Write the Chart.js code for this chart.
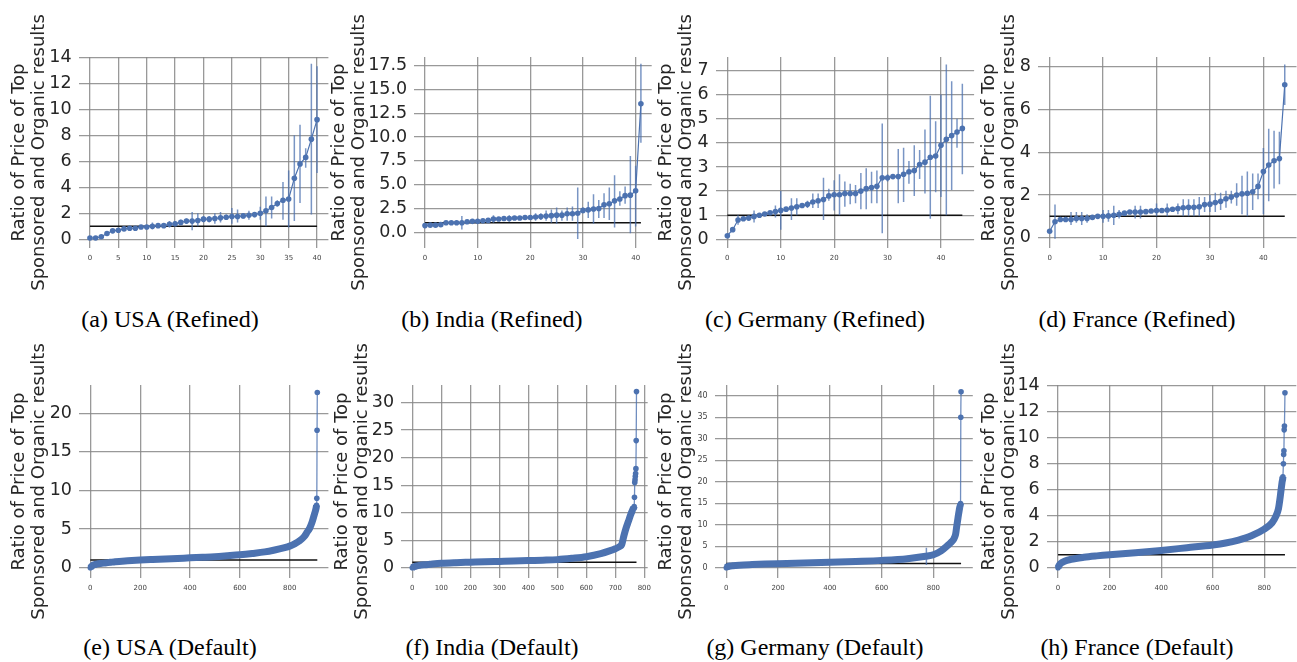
<!DOCTYPE html>
<html>
<head>
<meta charset="utf-8">
<script src="https://cdn.jsdelivr.net/npm/chart.js@4.4.1/dist/chart.umd.min.js"></script>
<style>
  body { margin: 0; background: #fff; width: 1297px; height: 662px; position: relative; overflow: hidden; }
  canvas { position: absolute; }
  .cap { position: absolute; width: 400px; text-align: center; font-family: "Liberation Serif", "Times New Roman", serif; font-size: 24px; line-height: 24px; color: #000; white-space: nowrap; }
</style>
</head>
<body>
<script>
// ---- data: refined runs (one value per product, sorted) ----
const aY = [0.1,0.1,0.2,0.45,0.65,0.7,0.8,0.85,0.85,0.95, 0.95,1.0,1.05,1.05,1.15,1.2,1.3,1.4,1.4,1.45,
            1.55,1.55,1.6,1.65,1.7,1.75,1.75,1.8,1.85,1.9, 2.0,2.2,2.45,2.75,3.0,3.1,4.7,5.8,6.3,7.7, 9.2];
const aErrIdx = [11,14,15,16,17,18,19,20,21,22,23,24,25,26,27,28,29,30,31,32,33,34,35,36,37,38,39,40];
const aErrLo  = [0.75,0.9,1.0,1.1,1.2,0.7,1.0,1.3,1.3,1.2,1.3,1.5,1.2,1.3,1.6,1.5,1.7,1.5,1.0,1.6,2.5,1.5,0.9,1.4,2.8,5.5,1.9,5.1];
const aErrHi  = [1.3,1.4,1.4,1.5,1.6,2.1,2.0,1.8,1.8,2.0,2.1,1.9,2.4,2.3,2.0,2.2,2.1,2.5,3.3,3.3,3.0,4.4,5.3,8.0,8.8,7.0,13.5,13.3];

const bY = [0.7,0.75,0.75,0.8,1.0,1.0,1.0,1.0,1.1,1.15, 1.15,1.2,1.25,1.4,1.4,1.45,1.45,1.5,1.5,1.55,
            1.55,1.6,1.65,1.7,1.75,1.8,1.8,1.95,1.95,2.0, 2.3,2.35,2.45,2.5,2.9,3.0,3.3,3.5,3.85,3.9, 4.35,13.5];
const bErrIdx = [7,13,16,21,22,23,24,25,26,27,28,29,30,31,32,33,34,35,36,37,38,39,40,41];
const bErrLo  = [0.3,1.0,1.1,1.2,1.3,1.2,1.0,0.9,1.2,1.2,1.2,-0.7,2.0,1.5,0.9,1.5,1.5,1.3,0.5,2.8,3.0,-0.1,0.6,9.4];
const bErrHi  = [1.7,1.8,1.8,2.0,2.0,2.3,2.4,2.6,2.3,2.6,2.7,4.7,2.6,3.2,4.0,3.4,4.1,4.7,6.0,4.3,4.8,8.0,7.0,17.7];

const cY = [0.15,0.4,0.8,0.85,0.88,0.95,1.0,1.05,1.1,1.15, 1.2,1.25,1.3,1.35,1.4,1.45,1.55,1.6,1.65,1.8,
            1.85,1.85,1.9,1.9,1.9,2.0,2.1,2.15,2.2,2.55, 2.55,2.6,2.6,2.7,2.8,2.85,3.1,3.2,3.4,3.45,
            3.9,4.15,4.3,4.45,4.6];
const cErrIdx = [2,5,9,10,12,13,15,16,17,18,19,20,21,22,23,24,25,26,27,28,29,30,31,32,33,34,35,36,37,38,39,40,41,42,43,44];
const cErrLo  = [0.6,0.7,0.9,0.4,0.8,1.0,1.3,1.3,1.3,0.8,1.6,1.2,1.0,1.35,1.45,1.5,1.25,1.25,1.5,1.5,
                 0.25,2.4,2.5,1.5,1.55,2.3,1.8,2.5,1.9,0.85,1.95,1.75,1.0,2.05,3.8,2.7];
const cErrHi  = [1.0,1.2,1.4,2.0,1.7,1.7,1.6,1.9,1.9,2.55,2.1,2.45,2.7,2.4,2.3,2.25,2.75,2.95,2.8,2.85,
                 4.8,2.7,2.7,3.75,3.8,3.25,3.9,3.7,4.55,5.95,4.9,6.0,7.25,6.55,5.0,6.45];

const dY = [0.3,0.75,0.85,0.85,0.85,0.9,0.9,0.9,0.95,1.0, 1.0,1.02,1.05,1.1,1.15,1.2,1.2,1.2,1.22,1.25,
            1.27,1.27,1.3,1.33,1.37,1.4,1.42,1.42,1.45,1.55, 1.57,1.65,1.7,1.82,1.9,2.0,2.05,2.08,2.15,2.4,
            3.1,3.4,3.6,3.7,7.15];
const dErrIdx = [1,4,5,6,7,10,11,12,13,16,17,20,22,24,25,26,27,28,29,30,31,32,33,34,35,36,37,38,39,40,41,42,43,44];
const dErrLo  = [-0.05,0.6,0.7,0.6,0.7,0.7,0.75,0.6,0.9,0.9,0.9,1.0,1.0,1.1,1.0,1.0,1.0,1.0,1.2,1.2,
                 1.2,1.3,1.4,1.6,1.5,1.1,1.0,1.3,1.8,1.1,1.7,2.3,2.5,6.2];
const dErrHi  = [1.55,1.2,1.2,1.2,1.1,1.3,1.3,1.5,1.3,1.5,1.5,1.6,1.6,1.6,1.8,1.8,1.8,1.9,1.9,2.0,
                 2.1,2.1,2.2,2.2,2.55,2.9,3.1,3.0,3.0,4.2,5.1,5.0,4.95,8.1];

// ---- data: default runs (~900 products, read at sample positions) ----
const eX = [0,3,8,15,25,40,60,80,100,150, 200,250,300,350,400,450,500,550,600,650,
            700,740,780,800,820,840,860,870,880,890, 900,906,908,909,910,911];
const eY = [0,0.12,0.28,0.38,0.46,0.54,0.62,0.7,0.78,0.9, 1.0,1.07,1.13,1.2,1.28,1.35,1.43,1.55,1.68,1.85,
            2.05,2.3,2.6,2.8,3.1,3.5,4.1,4.6,5.1,5.9, 7.0,7.7,8.1,9.0,17.8,22.7];

const fX = [0,3,8,15,25,40,60,100,150,200, 250,300,350,400,450,500,550,600,650,680,
            700,715,722,730,737,745,752,758,762,765, 766,767,768,769,770,771,772,773];
const fY = [0,0.1,0.22,0.32,0.42,0.52,0.62,0.8,0.92,1.0, 1.08,1.15,1.22,1.3,1.37,1.47,1.7,2.0,2.55,3.05,
            3.45,3.85,4.2,5.9,7.2,8.4,9.5,10.3,10.8,11.1, 12.8,15.5,16.0,16.6,17.1,18.0,23.1,32.0];

const gX = [0,3,8,15,25,50,100,150,200,300, 400,500,600,700,770,800,830,850,870,880,
            886,890,895,900,904,905,906,907];
const gY = [0,0.15,0.3,0.4,0.47,0.58,0.72,0.84,0.94,1.1, 1.26,1.46,1.7,2.1,2.65,3.0,3.9,4.9,6.0,6.8,
            7.8,9.5,11.5,13.4,14.5,14.9,35.0,40.9];
const gErrIdx = [773];
const gErrLo  = [0.6];
const gErrHi  = [4.65];

const hX = [0,3,10,25,50,100,150,200,300,400, 500,600,650,700,750,800,830,845,855,860,
            865,869,872,874,875,876,877,878,880];
const hY = [0,0.15,0.33,0.5,0.64,0.8,0.91,1.0,1.15,1.33, 1.54,1.75,1.9,2.13,2.46,2.97,3.46,3.97,4.56,5.2,
            6.0,6.6,7.0,8.0,8.7,9.0,10.6,10.9,13.45];

const yTitle = ['Ratio of Price of Top', 'Sponsored and Organic results'];
const captions = ['(a) USA (Refined)', '(b) India (Refined)', '(c) Germany (Refined)', '(d) France (Refined)',
                  '(e) USA (Default)', '(f) India (Default)', '(g) Germany (Default)', '(h) France (Default)'];

const idx = arr => arr.map((_, i) => i);

// ---- layout ----
const rows = [{top: 2, padTop: 55, axH: 191, padBottom: 26, capTop: 307},
              {top: 340, padTop: 45, axH: 193, padBottom: 22, capTop: 635}];
const panels = [
  {xs: idx(aY), ys: aY, err: [aErrIdx, aErrLo, aErrHi], row: 0, left: 10,  axL: 78.6,   axR: 328.4,  x: [-2, 42, 5],        y: [-0.67, 14.02, 2], cap: 170},
  {xs: idx(bY), ys: bY, err: [bErrIdx, bErrLo, bErrHi], row: 0, left: 330, axL: 414.2,  axR: 651.7,  x: [-2.05, 43.05, 10], y: [-1.65, 18.41, 2.5], cap: 492, fmt: v => v.toFixed(1)},
  {xs: idx(cY), ys: cY, err: [cErrIdx, cErrLo, cErrHi], row: 0, left: 657, axL: 715.6,  axR: 974.1,  x: [-2.2, 46.2, 10],   y: [-0.36, 7.56, 1], cap: 815},
  {xs: idx(dY), ys: dY, err: [dErrIdx, dErrLo, dErrHi], row: 0, left: 980, axL: 1037.9, axR: 1296.5, x: [-2.2, 46.2, 10],   y: [-0.48, 8.45, 2], cap: 1137},
  {xs: eX, ys: eY, row: 1, left: 10,  axL: 79.0,   axR: 328.4,  x: [-45.5, 955.5, 200],  y: [-1.33, 23.67, 5], cap: 170, band: 32},
  {xs: fX, ys: fY, row: 1, left: 333, axL: 401.1,  axR: 647.7,  x: [-38.65, 811.65, 100], y: [-1.87, 33.2, 5], cap: 492, band: 29},
  {xs: gX, ys: gY, err: [gErrIdx, gErrLo, gErrHi], row: 1, left: 657, axL: 714.6, axR: 972.8, x: [-45.35, 952.35, 200], y: [-2.4, 42.49, 5], cap: 815, band: 25, ySmall: true},
  {xs: hX, ys: hY, row: 1, left: 980, axL: 1046.7, axR: 1296.3, x: [-44, 924, 200], y: [-0.79, 14.05, 2], cap: 1137, band: 22}
];

const blue = '#4c72b0';
const gridColor = 'rgba(135,135,135,0.85)';
const textColor = '#262626';

function errorPoints(err) {
  const pts = [];
  if (!err) return pts;
  const [ix, lo, hi] = err;
  ix.forEach((x, k) => { pts.push({x, y: lo[k]}, {x, y: hi[k]}, {x, y: null}); });
  return pts;
}

// ticks at 0, step, 2*step ... up to the axis max
function stepTicks(step) {
  return scale => {
    const t = [];
    for (let k = 0; k * step <= scale.max + 1e-9; k++) t.push({value: +(k * step).toFixed(6)});
    scale.ticks = t;
  };
}

// two-line y title, drawn without the width limit Chart.js puts on axis titles
const yTitlePlugin = {
  id: 'yTitle',
  afterDraw(chart) {
    const {ctx, chartArea} = chart;
    const cy = (chartArea.top + chartArea.bottom) / 2;
    ctx.save();
    ctx.fillStyle = textColor;
    ctx.font = '18px "DejaVu Sans"';
    ctx.textAlign = 'center';
    ctx.textBaseline = 'middle';
    yTitle.forEach((line, i) => {
      ctx.save();
      ctx.translate(9.6 + i * 20, cy);
      ctx.rotate(-Math.PI / 2);
      ctx.fillText(line, 0, 0);
      ctx.restore();
    });
    ctx.restore();
  }
};

panels.forEach((p, n) => {
  const r = rows[p.row];
  const yW = p.axL - p.left;
  const axW = p.axR - p.axL;
  const width = Math.ceil(yW + axW + 10);
  const padRight = width - yW - axW;
  const xH = 24;
  const height = r.padTop + r.axH + xH + r.padBottom;

  const cv = document.createElement('canvas');
  cv.width = width; cv.height = height;
  cv.style.left = p.left + 'px'; cv.style.top = r.top + 'px';
  cv.style.width = width + 'px'; cv.style.height = height + 'px';
  document.body.appendChild(cv);

  const cap = document.createElement('div');
  cap.className = 'cap';
  cap.textContent = captions[n];
  cap.style.left = (p.cap - 200) + 'px';
  cap.style.top = r.capTop + 'px';
  document.body.appendChild(cap);

  const pts = p.xs.map((x, i) => ({x, y: p.ys[i]}));
  const lastX = p.xs[p.xs.length - 1];
  const dense = p.band !== undefined;

  const series = {
    data: pts,
    borderColor: blue,
    borderWidth: dense ? 7 : 1.2,
    pointRadius: 2.8,
    pointBackgroundColor: blue,
    pointBorderWidth: 0,
    cubicInterpolationMode: dense ? 'monotone' : 'default',
    segment: dense ? { borderWidth: c => (c.p1DataIndex > p.band ? 1.3 : 7),
                       borderColor: c => (c.p1DataIndex > p.band ? 'rgba(76,114,176,0.8)' : blue) } : undefined
  };
  const bars = {
    data: errorPoints(p.err),
    borderColor: 'rgba(76,114,176,0.75)',
    borderWidth: 1.5,
    pointRadius: 0,
    spanGaps: false
  };
  const refLine = {
    data: [{x: 0, y: 1}, {x: lastX, y: 1}],
    borderColor: '#111',
    borderWidth: 1.5,
    pointRadius: 0
  };

  new Chart(cv.getContext('2d'), {
    type: 'line',
    data: { datasets: [series, bars, refLine] },
    plugins: [yTitlePlugin],
    options: {
      responsive: false,
      animation: false,
      events: [],
      layout: { padding: { top: r.padTop, right: padRight, left: 0, bottom: r.padBottom } },
      plugins: { legend: { display: false }, tooltip: { enabled: false } },
      scales: {
        x: {
          type: 'linear', min: p.x[0], max: p.x[1],
          afterBuildTicks: stepTicks(p.x[2]),
          afterFit: s => { s.height = xH; s.paddingLeft = 0; s.paddingRight = 0; },
          border: { display: false },
          grid: { color: gridColor, lineWidth: 1.3, drawTicks: false },
          ticks: { autoSkip: false, maxRotation: 0, padding: 6,
                   color: '#444', font: { family: 'DejaVu Sans', size: 7 } }
        },
        y: {
          type: 'linear', min: p.y[0], max: p.y[1],
          afterBuildTicks: stepTicks(p.y[2]),
          afterFit: s => { s.width = yW; s.paddingTop = 0; s.paddingBottom = 0; },
          border: { display: false },
          grid: { color: gridColor, lineWidth: 1.3, drawTicks: false },
          ticks: { autoSkip: false, padding: 7,
                   color: p.ySmall ? '#444' : textColor,
                   font: { family: 'DejaVu Sans', size: p.ySmall ? 8 : 17.5 },
                   callback: p.fmt ? p.fmt : (v => String(v)) }
        }
      }
    }
  });
});
</script>
</body>
</html>
